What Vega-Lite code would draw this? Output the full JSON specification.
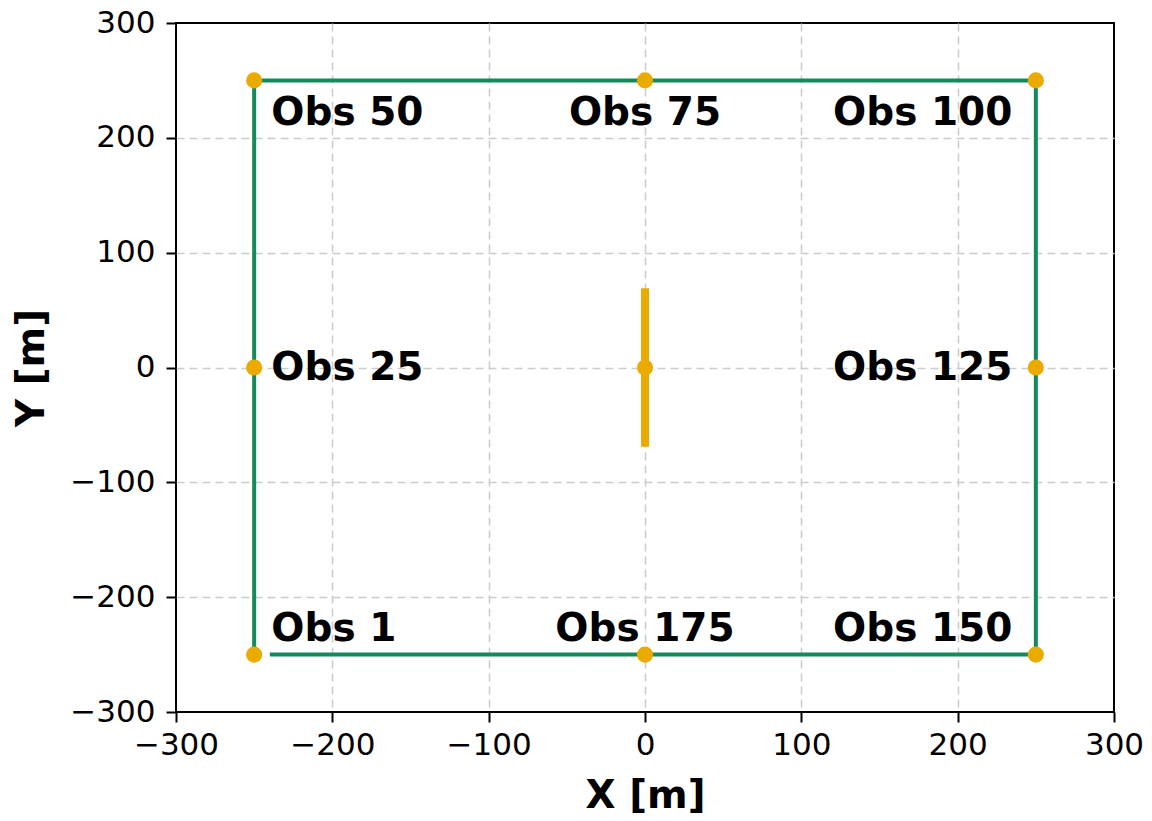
{
  "$schema": "https://vega.github.io/schema/vega-lite/v6.json",
  "autosize": "none",
  "width": 938,
  "height": 689,
  "padding": {"left": 176, "top": 23, "right": 38, "bottom": 109},
  "background": "white",
  "config": {
    "font": "DejaVu Sans",
    "view": {"stroke": "black", "strokeWidth": 2},
    "axis": {
      "labelFont": "DejaVu Sans",
      "labelFontSize": 31,
      "labelColor": "black",
      "labelFlush": false,
      "labelOverlap": false,
      "titleFont": "DejaVu Sans",
      "titleFontSize": 39,
      "titleFontWeight": "bold",
      "titleColor": "black",
      "tickColor": "black",
      "tickSize": 10,
      "tickWidth": 2,
      "domain": false,
      "grid": true,
      "gridColor": "#cccccc",
      "gridDash": [8, 5],
      "gridWidth": 1.5,
      "gridOpacity": {"condition": {"test": "abs(datum.value) >= 300", "value": 0}, "value": 1}
    }
  },
  "datasets": {
    "path": [
      {"order": 1, "x": -250, "y": -250},
      {"order": 2, "x": -250, "y": 250},
      {"order": 3, "x": 250, "y": 250},
      {"order": 4, "x": 250, "y": -250},
      {"order": 5, "x": -240, "y": -250}
    ],
    "source": [
      {"order": 1, "x": 0, "y": -69},
      {"order": 2, "x": 0, "y": 69}
    ],
    "obs": [
      {"name": "Obs 1", "x": -250, "y": -250},
      {"name": "Obs 25", "x": -250, "y": 0},
      {"name": "Obs 50", "x": -250, "y": 250},
      {"name": "Obs 75", "x": 0, "y": 250},
      {"name": "Obs 100", "x": 250, "y": 250},
      {"name": "Obs 125", "x": 250, "y": 0},
      {"name": "Obs 150", "x": 250, "y": -250},
      {"name": "Obs 175", "x": 0, "y": -250},
      {"name": "Source", "x": 0, "y": 0}
    ],
    "labels": [
      {"label": "Obs 1", "tx": -239, "ty": -228, "side": "left"},
      {"label": "Obs 25", "tx": -239, "ty": 0, "side": "left"},
      {"label": "Obs 50", "tx": -239, "ty": 222, "side": "left"},
      {"label": "Obs 75", "tx": 0, "ty": 222, "side": "center"},
      {"label": "Obs 100", "tx": 235, "ty": 222, "side": "right"},
      {"label": "Obs 125", "tx": 235, "ty": 0, "side": "right"},
      {"label": "Obs 150", "tx": 235, "ty": -228, "side": "right"},
      {"label": "Obs 175", "tx": 0, "ty": -228, "side": "center"}
    ]
  },
  "layer": [
    {
      "data": {"name": "path"},
      "mark": {"type": "line", "color": "#148a5c", "strokeWidth": 4},
      "encoding": {
        "x": {"field": "x", "type": "quantitative", "scale": {"domain": [-300, 300], "nice": false}, "axis": {"values": [-300, -200, -100, 0, 100, 200, 300], "title": "X [m]", "titlePadding": 16, "labelPadding": 8}},
        "y": {"field": "y", "type": "quantitative", "scale": {"domain": [-300, 300], "nice": false}, "axis": {"values": [-300, -200, -100, 0, 100, 200, 300], "title": "Y [m]", "titlePadding": 18, "labelPadding": 11}},
        "order": {"field": "order"}
      }
    },
    {
      "data": {"name": "source"},
      "mark": {"type": "line", "color": "#EAAA00", "strokeWidth": 8},
      "encoding": {
        "x": {"field": "x", "type": "quantitative"},
        "y": {"field": "y", "type": "quantitative"},
        "order": {"field": "order"}
      }
    },
    {
      "data": {"name": "obs"},
      "mark": {"type": "circle", "color": "#EAAA00", "opacity": 1, "size": 260},
      "encoding": {
        "x": {"field": "x", "type": "quantitative"},
        "y": {"field": "y", "type": "quantitative"}
      }
    },
    {
      "data": {"name": "labels"},
      "transform": [{"filter": "datum.side === 'left'"}],
      "mark": {"type": "text", "align": "left", "baseline": "middle", "fontSize": 39, "fontWeight": "bold", "color": "black"},
      "encoding": {
        "x": {"field": "tx", "type": "quantitative"},
        "y": {"field": "ty", "type": "quantitative"},
        "text": {"field": "label"}
      }
    },
    {
      "data": {"name": "labels"},
      "transform": [{"filter": "datum.side === 'center'"}],
      "mark": {"type": "text", "align": "center", "baseline": "middle", "fontSize": 39, "fontWeight": "bold", "color": "black"},
      "encoding": {
        "x": {"field": "tx", "type": "quantitative"},
        "y": {"field": "ty", "type": "quantitative"},
        "text": {"field": "label"}
      }
    },
    {
      "data": {"name": "labels"},
      "transform": [{"filter": "datum.side === 'right'"}],
      "mark": {"type": "text", "align": "right", "baseline": "middle", "fontSize": 39, "fontWeight": "bold", "color": "black"},
      "encoding": {
        "x": {"field": "tx", "type": "quantitative"},
        "y": {"field": "ty", "type": "quantitative"},
        "text": {"field": "label"}
      }
    }
  ]
}
